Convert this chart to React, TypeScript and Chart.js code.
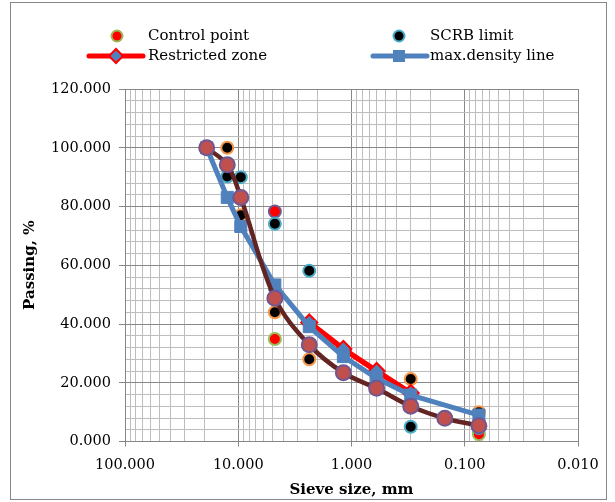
import React, { useEffect, useRef } from 'react';
import { Chart, registerables } from 'chart.js';

Chart.register(...registerables);

// ---- data ----
const gradationSieves = [19, 12.5, 9.5, 4.75, 2.36, 1.18, 0.6, 0.3, 0.15, 0.075];
const gradation = [100, 94.2, 83.1, 48.8, 32.9, 23.4, 18.1, 12.0, 7.9, 5.4];

const densitySieves = [19, 12.5, 9.5, 4.75, 2.36, 1.18, 0.6, 0.3, 0.075];
const maxDensity = [100, 83.1, 73.2, 53.3, 39.1, 28.9, 21.5, 15.8, 9.0];

const zoneSieves = [2.36, 1.18, 0.6, 0.3];
const restrictedZone = [40.5, 31.5, 24.0, 16.5];

const controlSieves = [4.75, 4.75, 0.075];
const controlPoints = [78.3, 34.9, 2.5];

const scrbSieves = [12.5, 9.5, 4.75, 2.36, 0.3, 0.075];
const scrbLimit = [90.2, 90.0, 74.1, 58.1, 5.0, 4.6];

const upperSieves = [12.5, 9.5, 4.75, 2.36, 0.3, 0.075];
const upperLimit = [100, 77, 44.0, 28.0, 21.3, 10.0];

const xTickValues = [100, 10, 1, 0.1, 0.01];
const xTickLabels = ['100.000', '10.000', '1.000', '0.100', '0.010'];
const yTickValues = [0, 20, 40, 60, 80, 100, 120];
const yTickLabels = ['0.000', '20.000', '40.000', '60.000', '80.000', '100.000', '120.000'];

const legendLabels = ['Control point', 'SCRB limit', 'Restricted zone', 'max.density line'];
const xTitle = 'Sieve size, mm';
const yTitle = 'Passing, %';

const pts = (xs: number[], ys: number[]) => xs.map((x, i) => ({ x, y: ys[i] }));

const FONT = "'DejaVu Serif', serif";
const MAJOR = '#878787';
const MINOR = '#bdbdbd';
const RED = '#ff0000';
const BLUE = '#4f81bd';
const TEAL = '#4bacc6';
const ORANGE = '#f79646';
const GREEN = '#9bbb59';
const BROWN = '#632523';
const BROWN_FILL = '#c0504d';
const PURPLE = '#6f5891';

const isDecade = (v: number) => Math.abs(Math.log10(v) - Math.round(Math.log10(v))) < 1e-6;

const legendPlugin = {
  id: 'customLegend',
  afterDraw(chart: any) {
    const ctx = chart.ctx as CanvasRenderingContext2D;
    ctx.save();
    ctx.font = `15px ${FONT}`;
    ctx.fillStyle = '#000';
    ctx.textBaseline = 'middle';
    ctx.textAlign = 'left';
    const r1 = 33;
    const r2 = 53;
    // Control point
    ctx.beginPath();
    ctx.arc(106, r1, 5.5, 0, Math.PI * 2);
    ctx.fillStyle = RED;
    ctx.fill();
    ctx.lineWidth = 2;
    ctx.strokeStyle = GREEN;
    ctx.stroke();
    ctx.fillStyle = '#000';
    ctx.fillText(legendLabels[0], 137, r1);
    // SCRB limit
    ctx.beginPath();
    ctx.arc(388, r1, 5.5, 0, Math.PI * 2);
    ctx.fillStyle = '#000';
    ctx.fill();
    ctx.strokeStyle = TEAL;
    ctx.stroke();
    ctx.fillStyle = '#000';
    ctx.fillText(legendLabels[1], 419, r1);
    // Restricted zone
    ctx.beginPath();
    ctx.moveTo(78, r2);
    ctx.lineTo(132, r2);
    ctx.lineWidth = 5;
    ctx.lineCap = 'round';
    ctx.strokeStyle = RED;
    ctx.stroke();
    ctx.beginPath();
    ctx.moveTo(105, r2 - 7);
    ctx.lineTo(112, r2);
    ctx.lineTo(105, r2 + 7);
    ctx.lineTo(98, r2);
    ctx.closePath();
    ctx.fillStyle = BLUE;
    ctx.fill();
    ctx.lineWidth = 2;
    ctx.strokeStyle = RED;
    ctx.stroke();
    ctx.fillStyle = '#000';
    ctx.fillText(legendLabels[2], 137, r2);
    // max density
    ctx.beginPath();
    ctx.moveTo(362, r2);
    ctx.lineTo(416, r2);
    ctx.lineWidth = 5;
    ctx.strokeStyle = BLUE;
    ctx.stroke();
    ctx.fillStyle = BLUE;
    ctx.fillRect(382, r2 - 6, 12, 12);
    ctx.fillStyle = '#000';
    ctx.fillText(legendLabels[3], 419, r2);
    ctx.restore();
  },
};

export default function App() {
  const ref = useRef<HTMLCanvasElement>(null);

  useEffect(() => {
    if (!ref.current) return;
    const chart = new Chart(ref.current, {
      type: 'scatter',
      data: {
        datasets: [
          {
            label: 'gradation',
            data: pts(gradationSieves, gradation),
            showLine: true,
            tension: 0.35,
            borderColor: BROWN,
            borderWidth: 4.5,
            pointStyle: 'circle',
            pointRadius: 7.5,
            pointBackgroundColor: BROWN_FILL,
            pointBorderColor: PURPLE,
            pointBorderWidth: 2,
            order: 0,
          },
          {
            label: legendLabels[3],
            data: pts(densitySieves, maxDensity),
            showLine: true,
            borderColor: BLUE,
            borderWidth: 5,
            pointStyle: 'rect',
            pointRadius: 8.5,
            pointBackgroundColor: BLUE,
            pointBorderColor: BLUE,
            pointBorderWidth: 1,
            order: 1,
          },
          {
            label: legendLabels[2],
            data: pts(zoneSieves, restrictedZone),
            showLine: true,
            borderColor: RED,
            borderWidth: 5.5,
            pointStyle: 'rectRot',
            pointRadius: 8,
            pointBackgroundColor: BLUE,
            pointBorderColor: RED,
            pointBorderWidth: 2,
            order: 2,
          },
          {
            label: 'upper',
            data: pts(upperSieves, upperLimit),
            showLine: false,
            pointRadius: 6,
            pointBackgroundColor: '#000',
            pointBorderColor: ORANGE,
            pointBorderWidth: 2,
            order: 3,
          },
          {
            label: legendLabels[1],
            data: pts(scrbSieves, scrbLimit),
            showLine: false,
            pointRadius: 6,
            pointBackgroundColor: '#000',
            pointBorderColor: TEAL,
            pointBorderWidth: 2,
            order: 4,
          },
          {
            label: legendLabels[0],
            data: pts(controlSieves, controlPoints),
            showLine: false,
            pointRadius: 6,
            pointBackgroundColor: RED,
            pointBorderColor: [PURPLE, GREEN, GREEN],
            pointBorderWidth: 2,
            order: 5,
          },
        ],
      },
      options: {
        animation: false,
        responsive: false,
        events: [],
        layout: { padding: { top: 86, right: 28, left: 0, bottom: 0 } },
        plugins: { legend: { display: false }, tooltip: { enabled: false } },
        scales: {
          x: {
            type: 'logarithmic',
            reverse: true,
            min: 0.01,
            max: 100,
            afterBuildTicks: (scale: any) => {
              const t: any[] = [];
              for (let e = -2; e <= 1; e++) {
                for (let m = 1; m <= 9; m++) t.push({ value: m * Math.pow(10, e) });
              }
              t.push({ value: 100 });
              scale.ticks = t;
            },
            afterFit: (scale: any) => {
              scale.height = 57.5;
            },
            ticks: {
              autoSkip: false,
              maxRotation: 0,
              padding: 10,
              color: '#000',
              font: { family: FONT, size: 14.5 },
              callback: (v: any) => {
                const n = Number(v);
                const i = xTickValues.findIndex((d) => Math.abs(d - n) / d < 1e-6);
                return i >= 0 ? xTickLabels[i] : '';
              },
            },
            grid: {
              color: (c: any) => (c.tick && isDecade(c.tick.value) ? MAJOR : MINOR),
              tickColor: (c: any) => (c.tick && isDecade(c.tick.value) ? MAJOR : 'rgba(0,0,0,0)'),
              tickLength: 5,
              lineWidth: 1,
            },
            border: { color: MAJOR, width: 1 },
            title: {
              display: true,
              text: xTitle,
              color: '#000',
              font: { family: FONT, size: 15, weight: 'bold' },
              padding: { top: 0, bottom: 0 },
            },
          },
          y: {
            type: 'linear',
            min: 0,
            max: 120,
            afterFit: (scale: any) => {
              scale.width = 114;
            },
            ticks: {
              stepSize: 4,
              autoSkip: false,
              padding: 8,
              color: '#000',
              font: { family: FONT, size: 14.5 },
              callback: (v: any) => {
                const i = yTickValues.indexOf(Number(v));
                return i >= 0 ? yTickLabels[i] : '';
              },
            },
            grid: {
              color: (c: any) => (c.tick && c.tick.value % 20 === 0 ? MAJOR : MINOR),
              tickColor: (c: any) => (c.tick && c.tick.value % 20 === 0 ? MAJOR : 'rgba(0,0,0,0)'),
              tickLength: 6,
              lineWidth: 1,
            },
            border: { color: MAJOR, width: 1 },
            title: {
              display: true,
              text: yTitle,
              color: '#000',
              font: { family: FONT, size: 15, weight: 'bold' },
              padding: { top: 10, bottom: 0 },
            },
          },
        },
      },
      plugins: [legendPlugin],
    } as any);
    return () => chart.destroy();
  }, []);

  return (
    <div
      style={{
        position: 'absolute',
        left: 10,
        top: 2,
        width: 597,
        height: 498,
        border: '1px solid #868686',
        boxSizing: 'border-box',
        background: '#fff',
      }}
    >
      <canvas ref={ref} width={595} height={496} style={{ display: 'block' }} />
    </div>
  );
}
